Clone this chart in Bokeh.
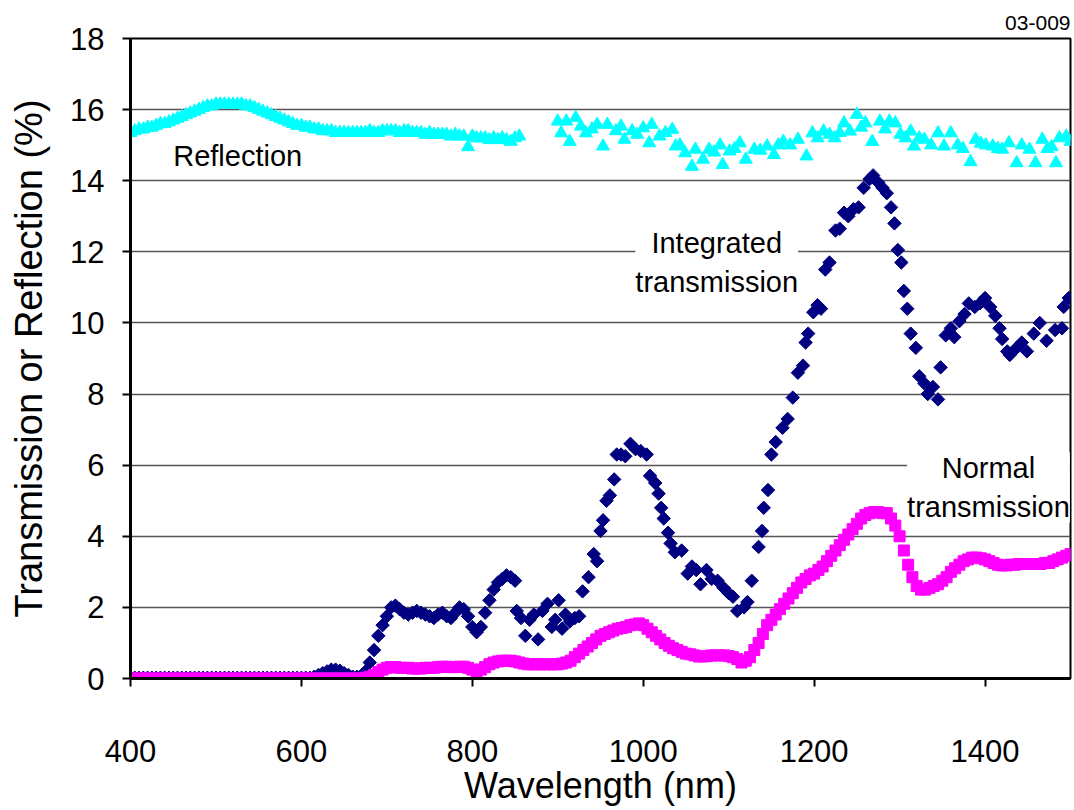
from bokeh.plotting import figure
from bokeh.models import Label, Range1d, FixedTicker, Title
from bokeh.embed import file_html
from bokeh.resources import INLINE

FONT = "Liberation Sans"

# ---------------- data ----------------
x_ticks = [400, 600, 800, 1000, 1200, 1400]
y_ticks = [0, 2, 4, 6, 8, 10, 12, 14, 16, 18]

# Reflection, dense part (400-855 nm, 5 nm step)
refl_wl_a = list(range(400, 860, 5))
refl_a = [15.35, 15.4, 15.45, 15.45, 15.5, 15.5, 15.55, 15.6, 15.6, 15.65,
          15.7, 15.75, 15.8, 15.85, 15.9, 15.95, 16.0, 16.05, 16.1, 16.1,
          16.15, 16.15, 16.15, 16.15, 16.15, 16.15, 16.15, 16.1, 16.1, 16.05,
          16.0, 15.95, 15.9, 15.85, 15.8, 15.75, 15.7, 15.65, 15.6, 15.55,
          15.55, 15.5, 15.5, 15.45, 15.45, 15.4, 15.4, 15.4, 15.35, 15.35,
          15.35, 15.35, 15.35, 15.35, 15.35, 15.35, 15.4, 15.35, 15.35, 15.4,
          15.4, 15.4, 15.4, 15.35, 15.4, 15.4, 15.35, 15.35, 15.35, 15.3,
          15.35, 15.3, 15.3, 15.3, 15.3, 15.25, 15.3, 15.25, 15.25, 14.95,
          15.25, 15.2, 15.2, 15.2, 15.15, 15.2, 15.15, 15.2, 15.15, 15.1,
          15.2, 15.25]

# Reflection, sparse part (900-1500 nm)
refl_wl_b = [900, 904, 910, 914, 921, 927, 933, 940, 946, 953, 958, 968, 974, 978,
             987, 993, 1000, 1007, 1010, 1019, 1026, 1034, 1038, 1043, 1049, 1057,
             1061, 1070, 1077, 1083, 1090, 1093, 1101, 1107, 1113, 1120, 1130, 1137,
             1145, 1153, 1158, 1164, 1172, 1181, 1191, 1198, 1204, 1211, 1218, 1224,
             1230, 1235, 1242, 1250, 1255, 1260, 1268, 1277, 1283, 1288, 1295, 1301,
             1307, 1313, 1317, 1323, 1329, 1337, 1345, 1352, 1360, 1368, 1374, 1383,
             1389, 1395, 1401, 1409, 1415, 1420, 1428, 1437, 1443, 1452, 1459, 1467,
             1473, 1478, 1483, 1487, 1495, 1500]
refl_b = [15.67, 15.34, 15.67, 15.1, 15.77, 15.53, 15.34, 15.45, 15.58, 14.97, 15.58,
          15.4, 15.53, 15.16, 15.4, 15.3, 15.48, 15.06, 15.58, 15.25, 15.35, 15.44,
          14.97, 15.0, 14.78, 14.4, 14.88, 14.6, 14.88, 14.8, 15.0, 14.45, 14.83,
          14.9, 15.06, 14.6, 14.88, 14.85, 14.97, 14.73, 15.0, 15.1, 15.0, 15.16,
          14.69, 15.34, 15.2, 15.39, 15.3, 15.2, 15.35, 15.62, 15.39, 15.86, 15.5,
          15.62, 15.1, 15.67, 15.45, 15.67, 15.62, 15.3, 15.2, 15.39, 14.97, 15.2,
          15.16, 15.0, 15.34, 14.97, 15.34, 15.0, 14.9, 14.53, 15.16, 15.05, 15.0,
          14.97, 14.9, 14.88, 15.06, 14.5, 15.0, 14.88, 14.5, 15.16, 14.9, 14.95,
          14.5, 15.2, 15.25, 15.1]

# Integrated transmission, dense part (400-850 nm, 5 nm step)
int_wl_a = list(range(400, 855, 5))
int_a = [0.02] * 43 + [
    0.05, 0.1, 0.15, 0.2, 0.25, 0.25, 0.22, 0.15, 0.1, 0.05,
    0.05, 0.08, 0.2, 0.45, 0.8, 1.2, 1.5, 1.75, 2.0, 2.05,
    1.95, 1.85, 1.8, 1.85, 1.9, 1.85, 1.8, 1.75, 1.7, 1.8,
    1.85, 1.75, 1.7, 1.85, 2.0, 1.95, 1.75, 1.45, 1.3, 1.45,
    1.85, 2.2, 2.5, 2.7, 2.8, 2.9, 2.85, 2.75]

# Integrated transmission, sparse part (852-1500 nm)
int_wl_b = [852, 857, 862, 867, 872, 877, 882, 888, 893, 897, 901, 905, 909, 914,
            920, 925, 929, 936, 942, 946, 950, 953, 957, 961, 966, 969, 974, 979,
            985, 991, 997, 1004, 1008, 1014, 1018, 1021, 1024, 1029, 1032, 1037,
            1045, 1052, 1057, 1062, 1067, 1074, 1080, 1087, 1094, 1100, 1105, 1110,
            1118, 1122, 1127, 1135, 1139, 1141, 1146, 1150, 1155, 1163, 1169, 1175,
            1181, 1187, 1190, 1193, 1199, 1204, 1208, 1213, 1218, 1225, 1230, 1235,
            1240, 1246, 1252, 1258, 1265, 1269, 1275, 1280, 1285, 1290, 1294, 1298,
            1302, 1305, 1309, 1313, 1319, 1323, 1329, 1333, 1339, 1345, 1348, 1354,
            1360, 1364, 1370, 1376, 1381, 1388, 1394, 1400, 1406, 1412, 1417, 1420,
            1426, 1429, 1437, 1443, 1449, 1457, 1464, 1472, 1482, 1490, 1492, 1498]
int_b = [1.9, 1.7, 1.2, 1.65, 1.8, 1.1, 1.9, 2.1, 1.45, 1.65, 2.2, 1.4, 1.8, 1.6,
         1.7, 1.75, 2.45, 2.85, 3.5, 3.3, 4.15, 4.45, 5.0, 5.15, 5.6, 6.3, 6.3, 6.25,
         6.6, 6.45, 6.4, 6.3, 5.7, 5.5, 5.2, 4.8, 4.5, 4.1, 3.8, 3.55,
         3.6, 2.95, 3.15, 3.05, 2.65, 3.05, 2.8, 2.75, 2.55, 2.4, 2.3, 1.9,
         2.0, 2.15, 2.75, 3.7, 4.15, 4.8, 5.3, 6.3, 6.65, 7.05, 7.3, 7.9,
         8.6, 8.8, 9.45, 9.7, 10.3, 10.5, 10.4, 11.5, 11.7, 12.6, 12.65, 13.1,
         13.0, 13.2, 13.25, 13.8, 14.05, 14.15, 13.95, 13.8, 13.65, 13.25, 12.8, 12.05,
         11.7, 10.9, 10.4, 9.7, 9.3, 8.5, 8.3, 8.0, 8.2, 7.85, 8.75, 9.65,
         9.85, 9.6, 10.05, 10.25, 10.55, 10.45, 10.55, 10.7, 10.45, 10.2, 9.85, 9.55,
         9.2, 9.1, 9.3, 9.45, 9.2, 9.7, 10.0, 9.5, 9.8, 9.85, 10.45, 10.7]

# Normal transmission (400-1500 nm, 5 nm step)
norm_wl = list(range(400, 1505, 5))
norm_t = [0.0] * 55 + [
    0.02, 0.05, 0.1, 0.18, 0.25, 0.3, 0.32, 0.32, 0.3, 0.3,
    0.3, 0.28, 0.28, 0.28, 0.3, 0.3, 0.3, 0.32, 0.33, 0.33,
    0.32, 0.32, 0.33, 0.33, 0.3, 0.25, 0.2, 0.25, 0.32, 0.4,
    0.45, 0.48, 0.5, 0.5, 0.5, 0.48, 0.45, 0.42, 0.4, 0.4,
    0.4, 0.4, 0.4, 0.4, 0.4, 0.4, 0.42, 0.45, 0.5, 0.6,
    0.7, 0.8, 0.9, 1.0, 1.1, 1.2, 1.25, 1.3, 1.35, 1.4,
    1.42, 1.45, 1.5, 1.52, 1.55, 1.5, 1.4, 1.3, 1.2, 1.1,
    1.0, 0.92, 0.85, 0.8, 0.75, 0.7, 0.68, 0.65, 0.62, 0.62,
    0.63, 0.65, 0.65, 0.65, 0.65, 0.63, 0.6, 0.55, 0.45, 0.5,
    0.6, 0.8, 1.0, 1.25, 1.5, 1.65, 1.8, 1.95, 2.1, 2.25,
    2.4, 2.55, 2.7, 2.8, 2.9, 2.95, 3.05, 3.15, 3.3, 3.45,
    3.6, 3.75, 3.9, 4.05, 4.2, 4.35, 4.5, 4.6, 4.65, 4.68,
    4.68, 4.65, 4.65, 4.5, 4.3, 4.0, 3.6, 3.2, 2.85, 2.6,
    2.5, 2.5, 2.55, 2.6, 2.65, 2.75, 2.85, 3.0, 3.1, 3.2,
    3.3, 3.35, 3.4, 3.4, 3.38, 3.35, 3.3, 3.25, 3.2, 3.18,
    3.18, 3.2, 3.2, 3.22, 3.22, 3.22, 3.22, 3.22, 3.22, 3.25,
    3.25, 3.3, 3.35, 3.4, 3.45, 3.5]

assert len(refl_wl_a) == len(refl_a), (len(refl_wl_a), len(refl_a))
assert len(refl_wl_b) == len(refl_b), (len(refl_wl_b), len(refl_b))
assert len(int_wl_a) == len(int_a), (len(int_wl_a), len(int_a))
assert len(int_wl_b) == len(int_b), (len(int_wl_b), len(int_b))
assert len(norm_wl) == len(norm_t), (len(norm_wl), len(norm_t))

# ---------------- figure ----------------
p = figure(width=1072, height=808, output_backend="svg", toolbar_location=None,
           x_range=Range1d(400, 1500), y_range=Range1d(0, 18),
           min_border_left=130, min_border_right=2, min_border_top=38,
           min_border_bottom=130)

p.title = Title(text="03-009", align="right", text_font=FONT,
                text_font_size="21px", text_font_style="normal",
                text_color="#000000", offset=0, standoff=18)

p.background_fill_color = "white"
p.border_fill_color = "white"
p.outline_line_color = "black"
p.outline_line_width = 2

p.xgrid.grid_line_color = None
p.ygrid.grid_line_color = "#555555"
p.ygrid.grid_line_width = 1.3
p.ygrid.ticker = FixedTicker(ticks=y_ticks)

p.xaxis.ticker = FixedTicker(ticks=x_ticks)
p.yaxis.ticker = FixedTicker(ticks=y_ticks)
for ax in (p.xaxis[0], p.yaxis[0]):
    ax.axis_line_color = "black"
    ax.axis_line_width = 3
    ax.major_tick_line_color = "black"
    ax.major_tick_line_width = 2
    ax.major_tick_out = 8
    ax.major_tick_in = 0
    ax.minor_tick_line_color = None
    ax.major_label_text_font = FONT
    ax.major_label_text_font_size = "31px"
    ax.major_label_text_color = "black"
    ax.axis_label_text_font = FONT
    ax.axis_label_text_font_style = "normal"
    ax.axis_label_text_color = "black"

p.xaxis.axis_label = "Wavelength (nm)"
p.xaxis.axis_label_text_font_size = "36px"
p.xaxis.major_label_standoff = 53
p.xaxis.axis_label_standoff = 0
p.yaxis.axis_label = "Transmission or Reflection (%)"
p.yaxis.axis_label_text_font_size = "38px"
p.yaxis.major_label_standoff = 18
p.yaxis.axis_label_standoff = 17

# series
p.scatter(int_wl_a, int_a, marker="square", angle=0.785398, size=9.5,
          fill_color="#000080", line_color="#000080")
p.scatter(int_wl_b, int_b, marker="square", angle=0.785398, size=9.5,
          fill_color="#000080", line_color="#000080")
p.scatter(norm_wl, norm_t, marker="square", size=11,
          fill_color="#FF00FF", line_color="#FF00FF")
p.scatter(refl_wl_a, refl_a, marker="triangle", size=13,
          fill_color="#00FFFF", line_color="#00FFFF")
p.scatter(refl_wl_b, refl_b, marker="triangle", size=13,
          fill_color="#00FFFF", line_color="#00FFFF")

# annotations
p.add_layout(Label(x=450, y=14.7, text="Reflection", text_font=FONT,
                   text_font_size="29px", text_align="left",
                   text_baseline="middle", text_color="black"))
p.add_layout(Label(x=1086, y=11.7, text="Integrated\ntransmission", text_font=FONT,
                   text_font_size="29px", text_align="center",
                   text_baseline="middle", text_color="black",
                   background_fill_color="white"))
p.add_layout(Label(x=1404, y=5.37, text="Normal\ntransmission", text_font=FONT,
                   text_font_size="29px", text_align="center",
                   text_baseline="middle", text_color="black",
                   background_fill_color="white"))

open("out.html", "w").write(file_html(p, INLINE))
